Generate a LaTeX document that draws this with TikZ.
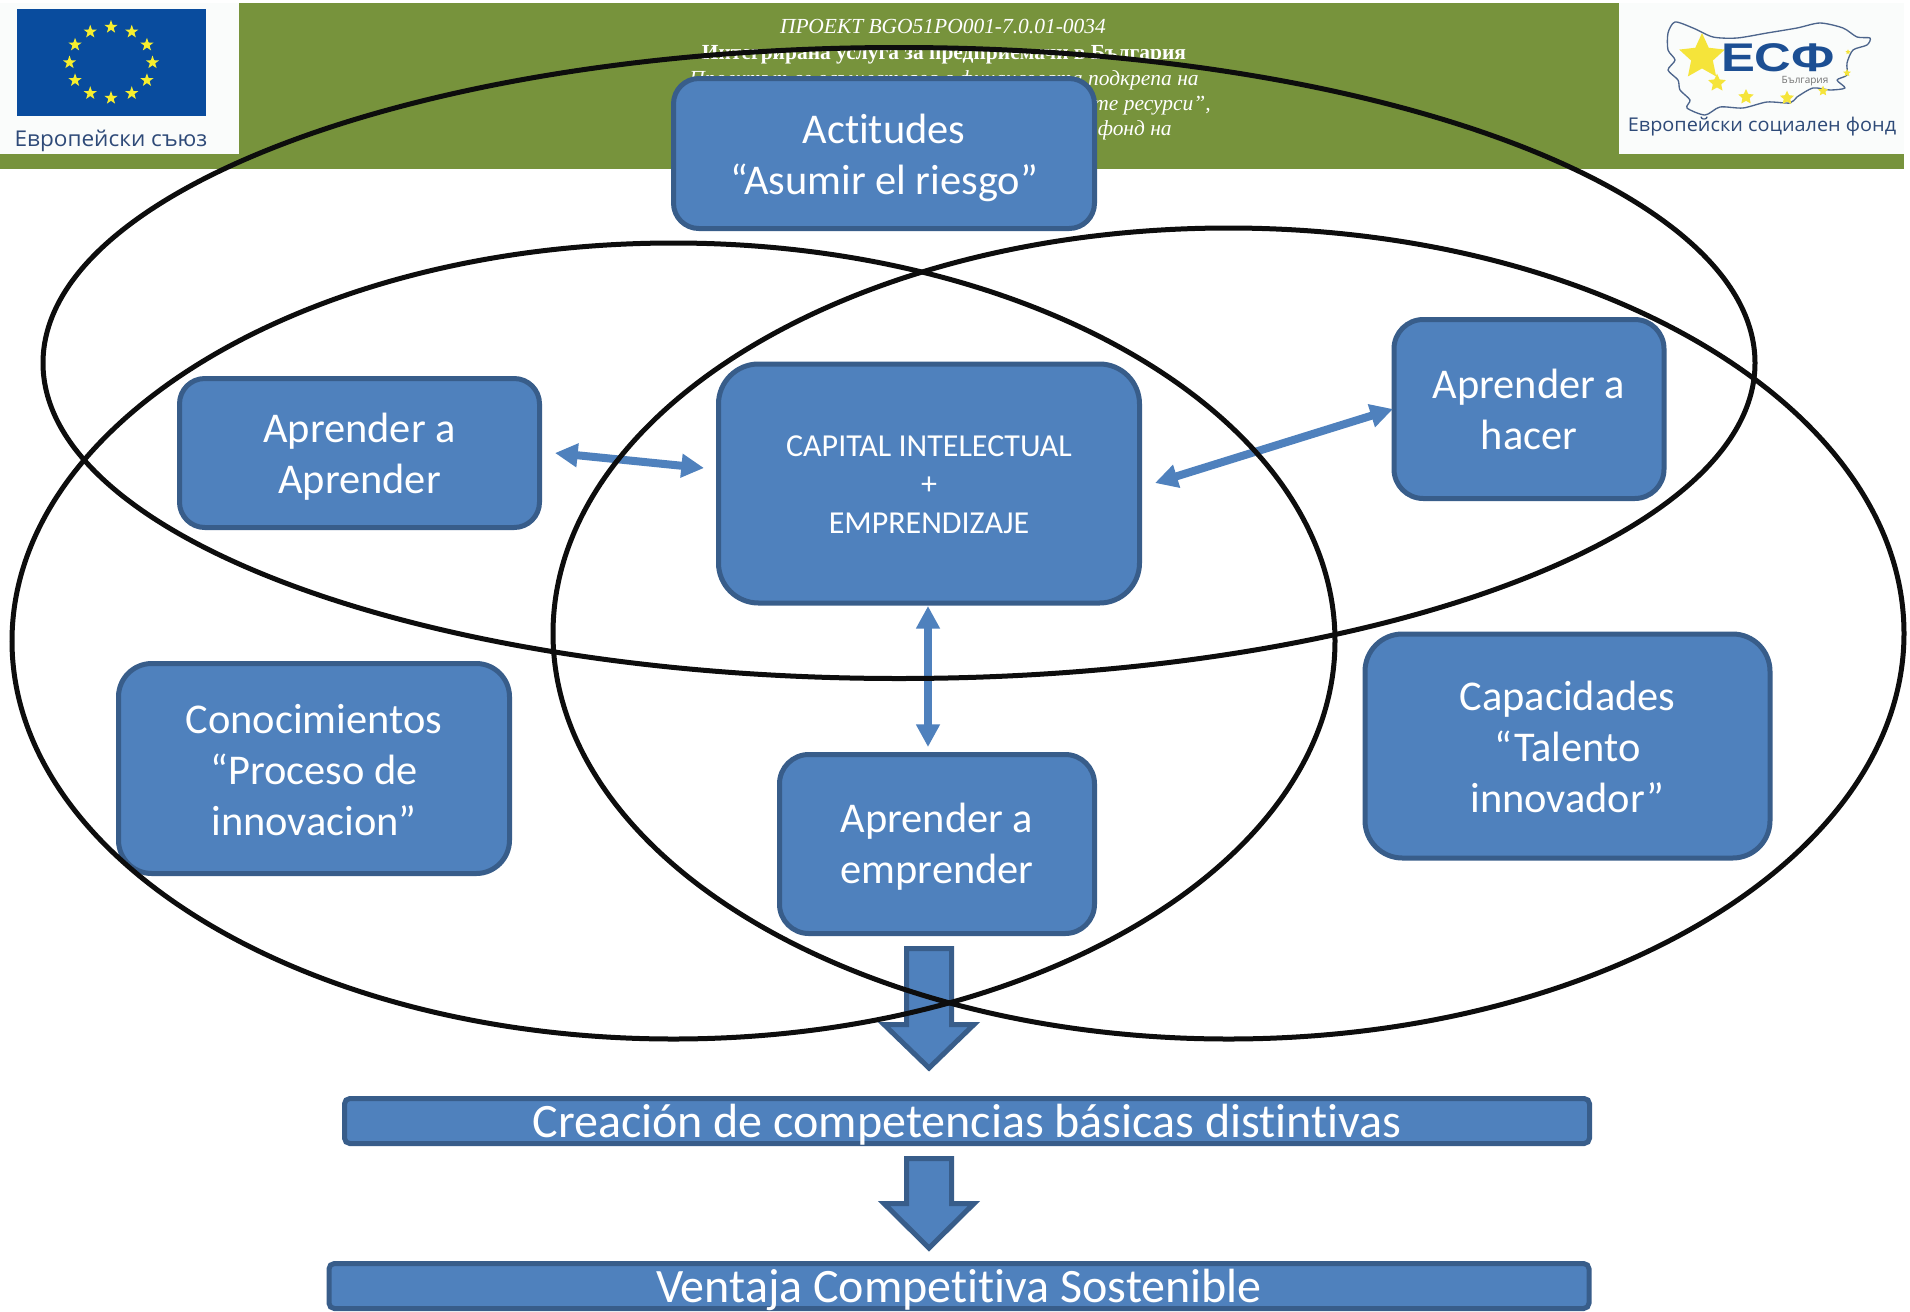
\documentclass[tikz,border=0pt]{standalone}
\usepackage{fontspec}
\setmainfont{Carlito}[Ligatures=NoCommon]
\newfontfamily\hdrfont{Liberation Serif}
\newfontfamily\logofont{Open Sans}
\newfontfamily\logobold{Liberation Sans}
\usetikzlibrary{arrows.meta,shapes.geometric}
\definecolor{boxfill}{HTML}{4F81BD}
\definecolor{boxline}{HTML}{385D8A}
\definecolor{hdrgreen}{HTML}{77933C}
\definecolor{eublue}{HTML}{094C9E}
\definecolor{eustarc}{HTML}{F7EE2E}
\definecolor{logotext}{HTML}{2E4A78}
\definecolor{esfyellow}{HTML}{F5E43A}
\definecolor{esfblue}{HTML}{1C4F93}
\definecolor{logowhite}{HTML}{FAFCFB}
\def\U{0.75pt}
\tikzset{
  bluebox/.style={draw=boxline,fill=boxfill,line width=3.75pt,text=white,inner sep=0pt,align=center,
    text depth=4pt,font=\fontsize{31.8}{38.25}\selectfont},
  barbox/.style={bluebox,rounded corners=4pt,font=\fontsize{36}{40}\selectfont},
  smalltext/.style={font=\fontsize{24}{28.8}\selectfont},
  setline/.style={draw=black!95,line width=3.75pt},
  twoway/.style={draw=boxfill,line width=6pt,{Triangle[length=17pt,width=17pt]}-{Triangle[length=17pt,width=17pt]}},
  downarrow/.style={draw=boxline,fill=boxfill,line width=3.75pt,miter limit=10},
  hdrline/.style={text=white,inner sep=0pt,anchor=base},
  hdrit/.style={font=\hdrfont\itshape\fontsize{16.1}{20}\selectfont},
  eustar/.style={star,star points=5,star point ratio=2.5,fill=eustarc,inner sep=0pt,minimum size=10.5pt},
  esfstar/.style={star,star points=5,star point ratio=2.1,fill=esfyellow,inner sep=0pt},
}
\begin{document}
\begin{tikzpicture}[x=0.75pt,y=-0.75pt]
\useasboundingbox (0,0) rectangle (1910,1311);
\fill[white] (0,0) rectangle (1910,1311);
% header band
\fill[hdrgreen] (0,3) rectangle (1904,169);
\node[hdrline,hdrit] (h1) at (943,33) {ПРОЕКТ BGO51PO001-7.0.01-0034};
\node[hdrline,font=\hdrfont\bfseries\fontsize{16.1}{20}\selectfont] (h2) at (944,59) {Интегрирана услуга за предприемачи в България};
\node[hdrline,hdrit] (h3) at (944,85) {Проектът се осъществява с финансовата подкрепа на};
\node[hdrline,hdrit,anchor=base east] (h4) at (1211,110) {човешките ресурси”,};
\node[hdrline,hdrit,anchor=base east] (h5) at (1172,135) {социален фонд на};
% EU logo
\fill[logowhite] (0,3) rectangle (239,154);
\fill[eublue] (17,9) rectangle (206,116);
\foreach \a in {0,30,...,330}
  \node[eustar] (eu\a) at ({111+41.5*cos(\a)},{62.5+35.5*sin(\a)}) {};
\node[text=logotext,inner sep=0pt,xscale=1.04,font=\logofont\fontsize{16.3}{18}\selectfont] (eutext) at (111,141) {Европейски съюз};
% ESF logo
\fill[logowhite] (1619,3) rectangle (1904,154);
\draw[draw=logotext!85,line width=1pt,line join=round]
  plot[smooth cycle,tension=0.45] coordinates {(1675,22)(1693,28)(1713,37)(1737,38)(1767,33)(1797,28)(1820,23)(1843,28)(1857,37)(1870,38)(1867,45)(1853,50)(1847,63)(1847,75)(1837,80)(1845,88)(1830,90)(1813,88)(1797,97)(1790,103)(1767,102)(1743,108)(1720,107)(1705,115)(1687,108)(1690,100)(1680,90)(1678,80)(1668,70)(1675,60)(1668,50)(1668,33)};
\node[esfstar,minimum size=36pt] (s1) at (1702,57) {};
\node[esfstar,minimum size=14pt] (s2) at (1717,83) {};
\node[esfstar,minimum size=12pt] (s3) at (1746,97) {};
\node[esfstar,minimum size=11pt] (s4) at (1787,98) {};
\node[esfstar,minimum size=8pt] (s5) at (1823,91) {};
\node[esfstar,minimum size=6pt] (s6) at (1847,73) {};
\node[esfstar,minimum size=4pt] (s7) at (1848,52) {};
\node[text=esfblue,inner sep=0pt,text height=21pt,text depth=0pt,font=\logobold\bfseries\fontsize{30}{32}\selectfont,xscale=1.27] (esf) at (1778,57) {ЕСФ};
\node[text=black!55,inner sep=0pt,text height=5.5pt,text depth=0pt,font=\logofont\fontsize{7.5}{9}\selectfont] (bg) at (1805,80) {България};
\node[text=logotext,inner sep=0pt,xscale=1.05,font=\logofont\fontsize{14.2}{16}\selectfont] (esftext) at (1762,127) {Европейски социален фонд};
% boxes
\node[bluebox,rounded corners=19pt,minimum width=421*\U,minimum height=150*\U,text height=65pt] (act) at (884,153.5) {Actitudes\\“Asumir el riesgo”};
\node[bluebox,rounded corners=19pt,minimum width=360*\U,minimum height=149*\U,text height=65.3pt] (apap) at (359.5,453) {Aprender a\\Aprender};
\node[bluebox,rounded corners=30pt,minimum width=421*\U,minimum height=239*\U,smalltext,text height=78.7pt] (cap) at (929,483.5) {CAPITAL INTELECTUAL\\+\\EMPRENDIZAJE};
\node[bluebox,rounded corners=22pt,minimum width=270*\U,minimum height=179*\U,text height=64.3pt] (hac) at (1529,409) {Aprender a\\hacer};
\node[bluebox,rounded corners=25pt,minimum width=391*\U,minimum height=210*\U,text height=104pt] (con) at (314,768.5) {Conocimientos\\“Proceso de\\innovacion”};
\node[bluebox,rounded corners=28pt,minimum width=405*\U,minimum height=224*\U,text height=103pt] (tal) at (1567.5,746) {Capacidades\\“Talento\\innovador”};
\node[bluebox,rounded corners=22pt,minimum width=315*\U,minimum height=179*\U,text height=63pt] (emp) at (937,844) {Aprender a\\emprender};
\node[barbox,minimum width=1245*\U,minimum height=45*\U,text height=29pt,text depth=4.5pt] (cre) at (967,1121) {Creación de competencias básicas distintivas};
\node[barbox,minimum width=1260*\U,minimum height=45*\U,text height=28.5pt,text depth=3.9pt] (ven) at (959,1286) {Ventaja Competitiva Sostenible};
% block arrows
\draw[downarrow] (906.5,948.5) -- (951.5,948.5) -- (951.5,1024.5) -- (974,1024.5) -- (929,1068) -- (884,1024.5) -- (906.5,1024.5) -- cycle;
\draw[downarrow] (906.5,1158.5) -- (951.5,1158.5) -- (951.5,1203.5) -- (974,1203.5) -- (929,1248) -- (884,1203.5) -- (906.5,1203.5) -- cycle;
% two-way arrows
\coordinate (a1l) at (555,453);
\coordinate (a1r) at (704,468);
\coordinate (a2l) at (1155,483);
\coordinate (a2r) at (1393,409);
\coordinate (a3t) at (928,606);
\coordinate (a3b) at (928,747);
\draw[twoway] (a1l) -- (a1r);
\draw[twoway] (a2l) -- (a2r);
\draw[twoway] (a3t) -- (a3b);
% set ellipses
\draw[setline] (899,363) ellipse [x radius=856,y radius=315.5];
\draw[setline] (673.5,641) ellipse [x radius=661.5,y radius=398];
\draw[setline] (1228.5,633.5) ellipse [x radius=675.5,y radius=405.5];
\end{tikzpicture}
\end{document}
